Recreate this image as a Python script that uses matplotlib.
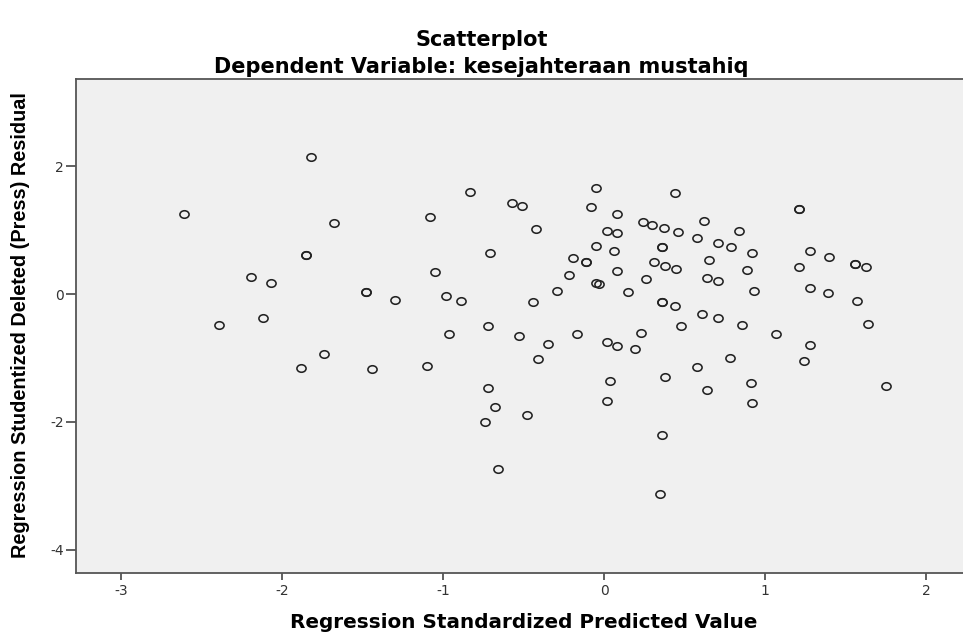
import matplotlib
matplotlib.use("Agg")
from matplotlib import pyplot as plt
from matplotlib.path import Path

plt.rcParams['axes.unicode_minus'] = False

# regression standardized predicted value (x) vs studentized deleted residual (y)
pred = [-2.61, -1.82, -1.85, -1.85, -2.19, -2.07, -2.39, -2.12, -1.74, -1.88,
        -1.68, -1.08, -0.83, -1.05, -1.48, -1.48, -1.30, -0.98, -0.89, -0.96,
        -1.44, -1.10,
        -0.57, -0.51, -0.42, -0.71, -0.44, -0.29, -0.22, -0.19, -0.11, -0.11,
        -0.05, -0.05, -0.08, 0.08, 0.02, 0.08, 0.06, 0.08, -0.05, -0.03,
        0.15, -0.72, -0.53, -0.35, -0.17, 0.02, 0.08, -0.41, -0.72, -0.68,
        -0.74, -0.48, -0.66, 0.04, 0.02,
        0.44, 1.21, 1.21, 0.24, 0.30, 0.37, 0.46, 0.62, 0.58, 0.84, 0.36,
        0.36, 0.71, 0.79, 0.92, 0.65, 0.31, 0.38, 0.45, 0.89, 0.26, 0.64,
        0.71, 0.93, 0.36, 0.36, 0.44, 0.61, 0.71, 0.48, 0.86, 0.23, 0.19,
        1.07, 1.28, 1.40, 1.21, 1.56, 1.56, 1.63, 1.28, 1.39, 1.57, 1.64,
        1.28, 0.78, 1.24, 0.58, 0.38, 0.64, 0.91, 0.92, 0.36, 0.35, 1.75]
resid = [1.25, 2.14, 0.61, 0.61, 0.27, 0.17, -0.48, -0.38, -0.94, -1.16,
         1.11, 1.20, 1.59, 0.34, 0.03, 0.03, -0.09, -0.03, -0.11, -0.63,
         -1.17, -1.13,
         1.42, 1.38, 1.02, 0.64, -0.13, 0.05, 0.30, 0.56, 0.50, 0.50,
         0.75, 1.66, 1.36, 1.25, 0.98, 0.95, 0.67, 0.36, 0.17, 0.16,
         0.03, -0.50, -0.66, -0.78, -0.63, -0.75, -0.81, -1.02, -1.47, -1.77,
         -2.00, -1.89, -2.73, -1.36, -1.67,
         1.58, 1.33, 1.33, 1.13, 1.08, 1.03, 0.97, 1.14, 0.88, 0.98, 0.73,
         0.73, 0.80, 0.73, 0.64, 0.53, 0.50, 0.44, 0.39, 0.38, 0.23, 0.25,
         0.20, 0.05, -0.13, -0.13, -0.19, -0.31, -0.38, -0.50, -0.48, -0.61, -0.86,
         -0.63, 0.67, 0.58, 0.42, 0.47, 0.47, 0.42, 0.09, 0.02, -0.11, -0.47,
         -0.80, -1.00, -1.05, -1.14, -1.30, -1.50, -1.39, -1.70, -2.20, -3.13, -1.44]

xticks = [-3, -2, -1, 0, 1, 2]
yticks = [-4, -2, 0, 2]

# SPSS circles come out a little wider than tall in this picture
circ = Path.unit_circle()
oval = Path(circ.vertices * [1.0, 0.82], circ.codes)

fig = plt.figure(figsize=(9.63, 6.35), dpi=100)
ax = fig.add_axes([76 / 963, 1 - 573 / 635, 1 - 76 / 963, (573 - 79) / 635])
ax.set_facecolor('#f0f0f0')

ax.plot(pred, resid, linestyle='none', marker=oval, markersize=6.6,
        markerfacecolor='none', markeredgecolor='#222222', markeredgewidth=1.15)

ax.set_xlim(-3.28, 2.23)
ax.set_ylim(-4.36, 3.36)
ax.set_xticks(xticks)
ax.set_yticks(yticks)
ax.tick_params(axis='x', length=5, width=1.2, color='#444444', pad=3,
               labelsize=10, labelcolor='#333333')
ax.tick_params(axis='y', length=7, width=1.2, color='#444444', pad=2,
               labelsize=10, labelcolor='#333333')

for side in ['left', 'top', 'bottom']:
    ax.spines[side].set_color('#555555')
    ax.spines[side].set_linewidth(1.3)
ax.spines['right'].set_visible(False)

ax.set_xlabel('Regression Standardized Predicted Value', fontsize=14.4,
              fontweight='bold', va='center')
ax.xaxis.set_label_coords(0.505, -0.101)
ax.set_ylabel('Regression Studentized Deleted (Press) Residual', fontsize=14.3,
              fontweight='bold', family='Liberation Sans', va='center')
ax.yaxis.set_label_coords(-0.063, 0.501)

fig.text(0.5, 1 - 40 / 635, 'Scatterplot', ha='center', va='center',
         fontsize=15, fontweight='bold')
fig.text(0.5, 1 - 67 / 635, 'Dependent Variable: kesejahteraan mustahiq',
         ha='center', va='center', fontsize=15, fontweight='bold')

fig.savefig('out.png', dpi=100)
